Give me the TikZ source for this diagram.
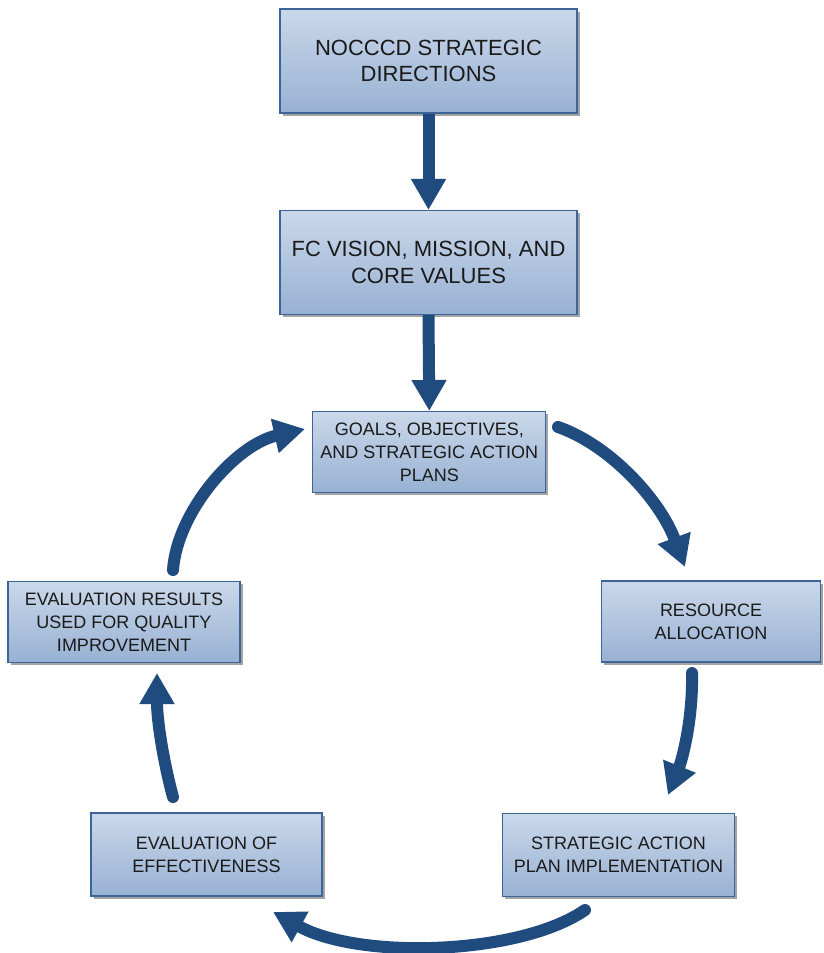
\documentclass[tikz,border=0pt]{standalone}
\usepackage{fontspec}
\setmainfont{Liberation Sans}
\usetikzlibrary{arrows.meta,shadows}
\definecolor{boxtop}{HTML}{CAD8EA}
\definecolor{boxbot}{HTML}{98B1D3}
\definecolor{boxline}{HTML}{3C6498}
\definecolor{arrowblue}{HTML}{1F4B7F}
\definecolor{txt}{HTML}{1A1A1A}
\tikzset{
  box/.style={draw=boxline, line width=1.1pt, top color=boxtop, bottom color=boxbot,
    rectangle, align=center, text=txt, inner sep=0pt,
    drop shadow={shadow xshift=2.5pt, shadow yshift=-2.5pt, fill=black!40, opacity=0.9}},
  bigtext/.style={font=\fontsize{22}{26.7}\selectfont},
  smalltext/.style={font=\fontsize{18}{23}\selectfont},
  flow/.style={draw=arrowblue, line width=12pt, line cap=round,
    -{Triangle[width=33pt,length=31pt]}, arrowblue}
}
\begin{document}
\begin{tikzpicture}[x=1pt,y=-1pt]
\useasboundingbox (0,0) rectangle (823,953);
\node[box,bigtext,minimum width=297pt,minimum height=104pt] (noc) at (428.5,61) {NOCCCD STRATEGIC\\DIRECTIONS};
\node[box,bigtext,minimum width=297pt,minimum height=104pt] (fc) at (428.5,262.5) {FC VISION, MISSION, AND\\CORE VALUES};
\node[box,smalltext,minimum width=233pt,minimum height=81pt] (goals) at (429.3,452) {GOALS, OBJECTIVES,\\AND STRATEGIC ACTION\\PLANS};
\node[box,smalltext,minimum width=219pt,minimum height=81pt] (res) at (711,621.5) {RESOURCE\\ALLOCATION};
\node[box,smalltext,minimum width=232pt,minimum height=83pt] (impl) at (618.5,855) {STRATEGIC ACTION\\PLAN IMPLEMENTATION};
\node[box,smalltext,minimum width=231pt,minimum height=83pt] (eff) at (206.5,854.5) {EVALUATION OF\\EFFECTIVENESS};
\node[box,smalltext,minimum width=232pt,minimum height=81pt] (qual) at (124,622) {EVALUATION RESULTS\\USED FOR QUALITY\\IMPROVEMENT};

\coordinate (a1) at (558,427);
\coordinate (a2) at (685,567);
\coordinate (b1) at (692,673);
\coordinate (b2) at (668,795);
\coordinate (c1) at (585,910);
\coordinate (c2) at (273,912);
\coordinate (d1) at (173,797);
\coordinate (d2) at (157,673);
\coordinate (e1) at (173,570);
\coordinate (e2) at (305,429);

\draw[flow, line cap=butt] (noc.south) -- (fc.north);
\draw[flow, line cap=butt] (fc.south) -- (goals.north);
\draw[flow] (a1) .. controls (610,445) and (660,500) .. (a2);
\draw[flow] (b1) .. controls (693,720) and (682,760) .. (b2);
\draw[flow] (c1) .. controls (520,955) and (360,960) .. (c2);
\draw[flow] (d1) .. controls (163,760) and (157,720) .. (d2);
\draw[flow] (e1) .. controls (177,512) and (235,445) .. (e2);
\end{tikzpicture}
\end{document}
